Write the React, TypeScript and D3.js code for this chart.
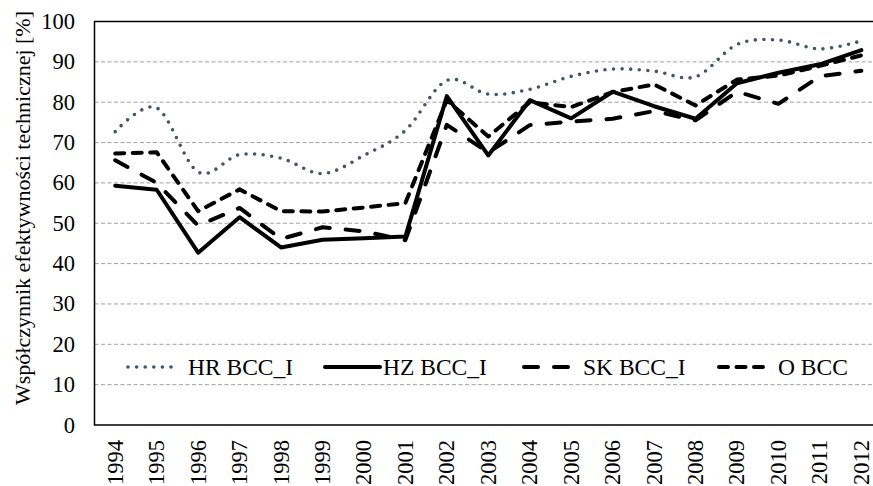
import React from 'react';
import * as d3 from 'd3';

const years = ['1994', '1995', '1996', '1997', '1998', '1999', '2000', '2001', '2002', '2003',
  '2004', '2005', '2006', '2007', '2008', '2009', '2010', '2011', '2012'];

const hrBcc = [72.7, 78.6, 62.7, 67.0, 66.1, 62.3, 66.8, 73.0, 85.4, 82.0,
  83.2, 86.4, 88.2, 87.7, 86.3, 94.3, 95.4, 93.2, 95.2];
const hzBcc = [59.3, 58.3, 42.7, 51.5, 44.0, 45.9, 46.3, 46.7, 81.5, 66.8,
  80.5, 76.0, 82.6, 79.0, 75.9, 84.7, 87.3, 89.4, 92.9];
const skBcc = [65.6, 60.0, 49.4, 53.8, 46.1, 49.0, 48.0, 45.8, 74.4, 67.5,
  74.3, 75.2, 75.9, 77.8, 75.5, 82.6, 79.6, 86.4, 87.8];
const oBcc = [67.3, 67.6, 53.0, 58.4, 53.0, 52.9, 53.9, 55.0, 80.5, 71.5,
  80.0, 78.8, 82.5, 84.4, 79.2, 85.6, 86.6, 89.0, 91.6];

const seriesNames = ['HR BCC_I', 'HZ BCC_I', 'SK BCC_I', 'O BCC'];
const yTicks = [0, 10, 20, 30, 40, 50, 60, 70, 80, 90, 100];

const FONT = 'Liberation Serif, Times New Roman, serif';

// line styles per series
const styles = [
  { stroke: '#44546A', width: 3.6, dash: '0 8.6', curve: d3.curveCardinal.tension(0) },
  { stroke: '#000', width: 4, dash: null, curve: d3.curveLinear },
  { stroke: '#000', width: 4, dash: '14 16', curve: d3.curveLinear },
  { stroke: '#000', width: 4, dash: '9 8.5', curve: d3.curveLinear },
];

const App = () => {
  const width = 873;
  const height = 486;
  const left = 94.5;
  const top = 21.5;
  const bottom = 425;
  const right = left + 19 * 41.45;

  const x = d3.scalePoint<string>().domain(years).range([left, right]).padding(0.5);
  const y = d3.scaleLinear().domain([0, 100]).range([bottom, top]);

  const data = [hrBcc, hzBcc, skBcc, oBcc];

  const makeLine = (curve: any) =>
    d3.line<number>()
      .x((_, i) => x(years[i]) as number)
      .y(d => y(d))
      .curve(curve);

  // legend layout: sample start, sample end, text start
  const legendY = 367;
  const legendItems = [
    { x0: 128, x1: 178, tx: 188 },
    { x0: 325, x1: 380, tx: 383 },
    { x0: 524, x1: 570, tx: 583 },
    { x0: 719, x1: 765, tx: 778 },
  ];

  const tickTxt = { fontFamily: FONT, fontSize: '22.5px' };
  const legTxt = { fontFamily: FONT, fontSize: '23.5px' };
  const titleTxt = { fontFamily: FONT, fontSize: '22px' };

  return (
    <div style={{ position: 'absolute', left: 0, top: 0 }}>
      <svg width={width} height={height} style={{ display: 'block', background: '#fff' }}>
        {/* gridlines */}
        {yTicks.filter(t => t > 0 && t < 100).map(t => (
          <line key={t} x1={left} x2={right} y1={y(t)} y2={y(t)}
            stroke="#A0A0A0" strokeWidth={1} strokeDasharray="4 2.5" />
        ))}
        {/* plot border */}
        <rect x={left} y={top} width={right - left} height={bottom - top}
          fill="none" stroke="#000" strokeWidth={1.5} />

        {/* y tick labels */}
        {yTicks.map(t => (
          <text key={t} x={75} y={y(t)} textAnchor="end" dominantBaseline="central"
            style={tickTxt} fill="#000">{t}</text>
        ))}

        {/* x tick labels */}
        {years.map(yr => (
          <text key={yr} transform={`translate(${x(yr)},440) rotate(-90)`}
            textAnchor="end" dominantBaseline="central"
            style={tickTxt} fill="#000">{yr}</text>
        ))}

        {/* y title */}
        <text transform="translate(22,208) rotate(-90)" textAnchor="middle"
          dominantBaseline="central" style={titleTxt} fill="#000">
          Współczynnik efektywności technicznej [%]
        </text>

        {/* series */}
        {data.map((vals, i) => (
          <path key={seriesNames[i]} d={makeLine(styles[i].curve)(vals) || ''}
            fill="none" stroke={styles[i].stroke} strokeWidth={styles[i].width}
            strokeDasharray={styles[i].dash || undefined}
            strokeLinecap="round" strokeLinejoin="round" />
        ))}

        {/* legend */}
        {legendItems.map((it, i) => (
          <g key={seriesNames[i]}>
            <line x1={it.x0} x2={it.x1} y1={legendY} y2={legendY}
              stroke={styles[i].stroke} strokeWidth={styles[i].width}
              strokeDasharray={styles[i].dash || undefined} strokeLinecap="round" />
            <text x={it.tx} y={legendY} dominantBaseline="central"
              style={legTxt} fill="#000">{seriesNames[i]}</text>
          </g>
        ))}
      </svg>
    </div>
  );
};

export default App;
